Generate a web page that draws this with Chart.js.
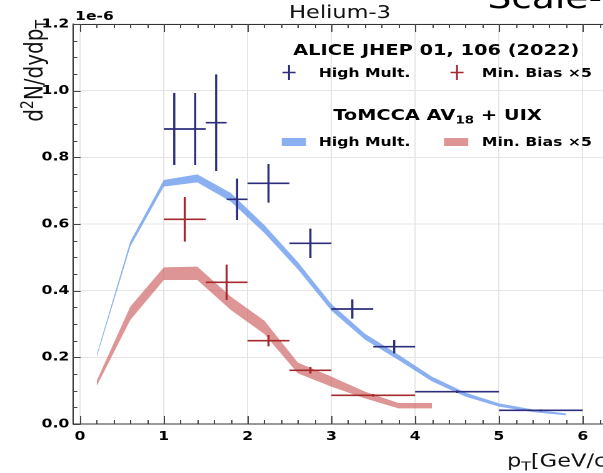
<!DOCTYPE html>
<html>
<head>
<meta charset="utf-8">
<script src="https://cdn.jsdelivr.net/npm/chart.js@4.4.0/dist/chart.umd.min.js"></script>
<style>
  html, body { margin: 0; padding: 0; background: #fff; overflow: hidden; }
  #page { width: 603px; height: 473px; overflow: hidden; }
  /* figure is laid out narrow and widened 1.25x */
  #figure { transform: scaleX(1.25); transform-origin: 0 0; }
  canvas { display: block; }
</style>
</head>
<body>
<div id="page"><div id="figure"><canvas id="spectrum" width="512" height="473"></canvas></div></div>
<script>
// Helium-3 pT spectra, yields in units of 1e-6

// ALICE JHEP 01, 106 (2022), high multiplicity
const hmPt     = [1.125, 1.375, 1.625, 1.875, 2.25, 2.75, 3.25, 3.75, 4.5, 5.5];
const hmPtLow  = [1.0, 1.25, 1.5, 1.75, 2.0, 2.5, 3.0, 3.5, 4.0, 5.0];
const hmPtHigh = [1.25, 1.5, 1.75, 2.0, 2.5, 3.0, 3.5, 4.0, 5.0, 6.0];
const hmYield  = [0.885, 0.885, 0.904, 0.674, 0.722, 0.542, 0.345, 0.232, 0.097, 0.041];
const hmErr    = [0.108, 0.108, 0.145, 0.062, 0.058, 0.044, 0.029, 0.020, 0.004, 0.003];

// ALICE, minimum bias (x5)
const mbPt     = [1.25, 1.75, 2.25, 2.75, 3.5];
const mbPtLow  = [1.0, 1.5, 2.0, 2.5, 3.0];
const mbPtHigh = [1.5, 2.0, 2.5, 3.0, 4.0];
const mbYield  = [0.614, 0.425, 0.250, 0.161, 0.086];
const mbErr    = [0.067, 0.053, 0.017, 0.010, 0.004];

// ToMCCA AV18 + UIX bands
const hmModelPt   = [0.2, 0.6, 1.0, 1.4, 1.8, 2.2, 2.6, 3.0, 3.4, 3.8, 4.2, 4.6, 5.0, 5.4, 5.8];
const hmModelLow  = [0.201, 0.532, 0.712, 0.725, 0.667, 0.573, 0.464, 0.340, 0.253, 0.192, 0.128, 0.082, 0.052, 0.036, 0.026];
const hmModelHigh = [0.209, 0.548, 0.732, 0.749, 0.693, 0.597, 0.486, 0.360, 0.271, 0.208, 0.142, 0.094, 0.062, 0.044, 0.032];

const mbModelPt   = [0.2, 0.6, 1.0, 1.4, 1.8, 2.2, 2.6, 3.0, 3.4, 3.8, 4.2];
const mbModelLow  = [0.114, 0.312, 0.432, 0.432, 0.342, 0.270, 0.152, 0.112, 0.077, 0.047, 0.047];
const mbModelHigh = [0.130, 0.352, 0.470, 0.472, 0.382, 0.310, 0.184, 0.142, 0.097, 0.063, 0.063];

const xTicks = [0, 1, 2, 3, 4, 5, 6];
const yTicks = [0.0, 0.2, 0.4, 0.6, 0.8, 1.0, 1.2];

const NAVY = '#2d2d7e';
const DARK_RED = '#a6282c';
const BLUE_BAND = 'rgba(100,149,237,0.75)';
const RED_BAND = 'rgba(205,92,92,0.65)';
const FONT = "'DejaVu Sans'";

function bandPoints(pt, vals) {
    return pt.map((p, i) => ({ x: p, y: vals[i] }));
}

// each measurement becomes a horizontal (bin width) and a vertical (error) segment,
// separated by null points so the line breaks between them
function errorBarPoints(pt, lo, hi, val, err) {
    const pts = [];
    pt.forEach((p, i) => {
        pts.push({ x: lo[i], y: val[i] }, { x: hi[i], y: val[i] }, { x: hi[i], y: null });
        pts.push({ x: p, y: val[i] - err[i] }, { x: p, y: val[i] + err[i] }, { x: p, y: null });
    });
    return pts;
}

function richWidth(ctx, parts, size, weight) {
    let w = 0;
    parts.forEach(p => {
        ctx.font = `${weight} ${p.sub || p.sup ? size * 0.7 : size}px ${FONT}`;
        w += ctx.measureText(p.t).width;
    });
    return w;
}

function drawRich(ctx, parts, x, y, size, weight, align, color) {
    const w = richWidth(ctx, parts, size, weight);
    let cx = align === 'center' ? x - w / 2 : align === 'right' ? x - w : x;
    ctx.fillStyle = color || '#000';
    ctx.textAlign = 'left';
    ctx.textBaseline = 'alphabetic';
    parts.forEach(p => {
        const s = p.sub || p.sup ? size * 0.7 : size;
        ctx.font = `${weight} ${s}px ${FONT}`;
        const dy = p.sub ? size * 0.22 : p.sup ? -size * 0.38 : 0;
        ctx.fillText(p.t, cx, y + dy);
        cx += ctx.measureText(p.t).width;
    });
}

const decorations = {
    id: 'decorations',
    afterDraw(chart) {
        const { ctx, chartArea: a, scales: { x, y } } = chart;
        ctx.save();

        // top and right spines
        ctx.strokeStyle = '#333';
        ctx.lineWidth = 1;
        ctx.beginPath();
        ctx.moveTo(a.left, a.top + 0.5);
        ctx.lineTo(a.right, a.top + 0.5);
        ctx.moveTo(a.right, a.top);
        ctx.lineTo(a.right, a.bottom);
        ctx.stroke();

        // inward ticks on all four sides
        ctx.strokeStyle = '#444';
        ctx.beginPath();
        for (let i = 0; i <= 32; i++) {
            const v = i * 0.2;
            const px = Math.round(x.getPixelForValue(v)) + 0.5;
            const len = i % 5 === 0 ? 8 : 4;
            ctx.moveTo(px, a.bottom); ctx.lineTo(px, a.bottom - len);
            ctx.moveTo(px, a.top); ctx.lineTo(px, a.top + len);
        }
        for (let i = 0; i <= 24; i++) {
            const v = i * 0.05;
            const py = Math.round(y.getPixelForValue(v)) + 0.5;
            const len = i % 4 === 0 ? 6 : 3.5;
            ctx.moveTo(a.left, py); ctx.lineTo(a.left + len, py);
            ctx.moveTo(a.right, py); ctx.lineTo(a.right - len, py);
        }
        ctx.stroke();

        // offset text, title and axis titles
        drawRich(ctx, [{ t: '1e-6' }], 60, 20, 12.5, 'bold', 'left');
        drawRich(ctx, [{ t: 'Helium-3' }], 272, 18, 18, 'normal', 'center', '#111');
        drawRich(ctx, [{ t: 'Scale-3' }], 390, 8, 30, 'normal', 'left', '#000');
        drawRich(ctx, [{ t: 'p' }, { t: 'T', sub: true }, { t: '[GeV/c' }, { t: '2', sup: true }, { t: ']' }],
            405.6, 466.5, 18, 'normal', 'left', '#111');

        ctx.save();
        ctx.translate(34, 20);
        ctx.rotate(-Math.PI / 2);
        drawRich(ctx, [{ t: 'd' }, { t: '2', sup: true }, { t: 'N/dydp' }, { t: 'T', sub: true }],
            0, 0, 20, 'normal', 'right', '#111');
        ctx.restore();

        // legend
        drawRich(ctx, [{ t: 'ALICE JHEP 01, 106 (2022)' }], 349, 55, 15.5, 'bold', 'center');
        drawRich(ctx, [{ t: 'ToMCCA AV' }, { t: '18', sub: true }, { t: ' + UIX' }], 350, 120, 15.5, 'bold', 'center');

        ctx.lineWidth = 1.5;
        [[231.2, NAVY], [365.6, DARK_RED]].forEach(([cx, col]) => {
            ctx.strokeStyle = col;
            ctx.beginPath();
            ctx.moveTo(cx - 5.2, 72.5); ctx.lineTo(cx + 5.2, 72.5);
            ctx.moveTo(cx, 65); ctx.lineTo(cx, 80);
            ctx.stroke();
        });
        drawRich(ctx, [{ t: 'High Mult.' }], 255, 77, 12.5, 'bold', 'left');
        drawRich(ctx, [{ t: 'Min. Bias \u00d75' }], 385.5, 77, 12.5, 'bold', 'left');

        ctx.fillStyle = BLUE_BAND;
        ctx.fillRect(225.4, 138, 19.4, 8);
        ctx.fillStyle = RED_BAND;
        ctx.fillRect(355.2, 138, 19.4, 8);
        drawRich(ctx, [{ t: 'High Mult.' }], 255, 146, 12.5, 'bold', 'left');
        drawRich(ctx, [{ t: 'Min. Bias \u00d75' }], 385.5, 146, 12.5, 'bold', 'left');

        ctx.restore();
    }
};

const bandStyle = { borderColor: 'rgba(0,0,0,0)', borderWidth: 1, pointRadius: 0, order: 1 };
const barStyle = { borderWidth: 1.7, pointRadius: 0, fill: false, order: 0 };

new Chart(document.getElementById('spectrum'), {
    type: 'line',
    data: {
        datasets: [
            { ...bandStyle, label: 'ToMCCA HM low', data: bandPoints(hmModelPt, hmModelLow), fill: false },
            { ...bandStyle, label: 'ToMCCA HM high', data: bandPoints(hmModelPt, hmModelHigh), fill: '-1', backgroundColor: BLUE_BAND },
            { ...bandStyle, label: 'ToMCCA MB low', data: bandPoints(mbModelPt, mbModelLow), fill: false },
            { ...bandStyle, label: 'ToMCCA MB high', data: bandPoints(mbModelPt, mbModelHigh), fill: '-1', backgroundColor: RED_BAND },
            { ...barStyle, label: 'High Mult.', borderColor: NAVY,
              data: errorBarPoints(hmPt, hmPtLow, hmPtHigh, hmYield, hmErr) },
            { ...barStyle, label: 'Min. Bias x5', borderColor: DARK_RED,
              data: errorBarPoints(mbPt, mbPtLow, mbPtHigh, mbYield, mbErr) }
        ]
    },
    options: {
        responsive: false,
        animation: false,
        devicePixelRatio: 2,
        layout: { padding: { left: 0, top: 24, right: 19, bottom: 0 } },
        elements: { line: { tension: 0 } },
        plugins: {
            legend: { display: false },
            tooltip: { enabled: false }
        },
        scales: {
            x: {
                type: 'linear',
                min: -0.0835,
                max: 6.4,
                afterBuildTicks: s => { s.ticks = xTicks.map(v => ({ value: v })); },
                afterFit: s => { s.height = 49; },
                grid: { color: '#e6e6e6', lineWidth: 1, drawTicks: false },
                border: { display: true, color: '#333', width: 1 },
                ticks: {
                    padding: 5,
                    color: '#000',
                    font: { family: 'DejaVu Sans', size: 12.5, weight: 'bold' },
                    callback: v => v.toFixed(0)
                }
            },
            y: {
                type: 'linear',
                min: 0,
                max: 1.2,
                afterBuildTicks: s => { s.ticks = yTicks.map(v => ({ value: v })); },
                afterFit: s => { s.width = 58.4; },
                grid: { color: '#e6e6e6', lineWidth: 1, drawTicks: false },
                border: { display: true, color: '#333', width: 1 },
                ticks: {
                    padding: 3,
                    color: '#000',
                    font: { family: 'DejaVu Sans', size: 12.5, weight: 'bold' },
                    callback: v => v.toFixed(1)
                }
            }
        }
    },
    plugins: [decorations]
});
</script>
</body>
</html>
